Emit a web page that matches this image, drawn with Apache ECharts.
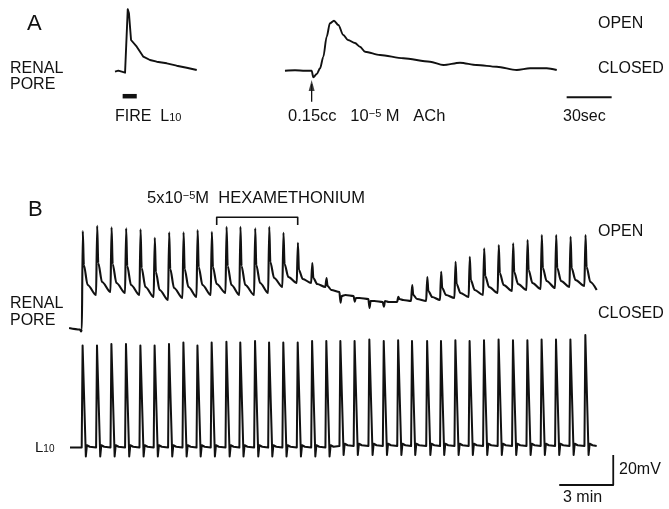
<!DOCTYPE html>
<html><head><meta charset="utf-8">
<script src="https://cdn.jsdelivr.net/npm/echarts@6/dist/echarts.min.js"></script>
<style>html,body{margin:0;padding:0;background:#fff}#c{width:669px;height:509px}</style>
</head><body><div id="c"></div>
<script>
// ---------- Panel A : time in s, pore deflection (arbitrary units) ----------
const aFireTrace = [[10,38.3],[12.2,39.3],[14.5,38.3],[16.7,37.3],[17.3,38.3],[18.5,100.7],[19.3,96.7],[20.7,70],[24.5,63.3],[28.9,53.3],[33.3,50],[37.8,48.3],[44.5,46.7],[51.1,44.3],[57.8,42.3],[64.5,40]];
const aStimulus = [[15.1,13.8],[24.5,13.8]];
const aAChTrace = [[123.3,39.3],[130,39.7],[136.7,39.3],[141.1,39.3],[142.2,32.7],[144.5,36],[146.7,41.7],[148.9,53.3],[151.1,73.3],[153.3,86.7],[156,89.3],[158.9,85],[162.2,75],[165.3,70],[170,67],[173.3,63.3],[176.7,58.3],[186.7,55],[202.2,51.7],[220,48.3],[228.9,45],[240,47.3],[251.1,45],[264.5,43.3],[277.8,40],[286.7,41.7],[297.8,41.7],[304.5,40]];
const aAChTime = 141.1;
const aScaleSec = [311.1, 341.1];   // 30 s bar

// ---------- Panel B : time in min ----------
const spikeTimes = [0.68,1.48,2.28,3.09,3.89,4.68,5.48,6.28,7.06,7.85,8.67,9.44,10.26,11.04,11.83,12.63,13.43,14.22,15.0,15.79,16.61,17.41,18.21,18.98,19.82,20.59,21.39,22.18,22.98,23.79,24.59,25.39,26.18,26.98,27.78,28.61];
const traceEnd = 29.26;
// renal pore (arbitrary deflection units)
const poreStart = 10.5;
const porePeak   = [109,114.3,112.7,111.7,110.7,102.3,107.7,107.7,110,108.3,113.3,113.3,111.7,113.3,107.3,97.3,77,62,37.3,38.3,32,33.3,43.3,55,63,68.3,78.3,83.3,91.7,95,96.7,100,105,105,103.3,105];
const poreDrop   = [75,77,76,74,72,68,71,71,73,73,74,74,75,78,76,70,62,54,44,42,39,39,41,45,49,52,56,60,64,67,68,70,72,72,72,73];
const poreMid    = [55,58,57,55,53,50,52,53,55,56,55,55,57,62,63,61,56,50,45,42,39,38,40,41,43,45,47,50,53,55,56,57,59,59,60,58];
const poreTrough = [45,48,47,45,43,40,42,43,45,47,45,45,47,53,57,57,53,48,44,41,38,38,39,39,40,42,43,45,47,49,50,51,52,53,54,50];
const hexPeriod = [8.15, 12.65];
// L10 membrane potential (mV)
const l10Peak  = [13,13,14,14,13,13,14,15,13,15,15.5,15,16,15,15,15,16,16,16,16,17,16,16.5,16,16,16,16.5,16,16.5,17,16.5,16.5,17,17,17,20];
const l10Under = [-61,-61,-61,-61,-61,-61,-61,-61,-61,-61,-61,-61,-61,-61,-61,-61,-61,-61,-60,-60,-60,-60,-60,-60,-60,-60,-60,-60,-60,-60,-60,-60,-60,-60,-60,-60];
const l10Rest  = [-55,-55,-55,-55,-55,-55,-55,-55,-55,-55,-55,-55,-55,-55,-55,-55,-55,-55,-54,-54,-54,-54,-54,-54,-54,-54,-54,-54,-54,-54,-54,-54,-54,-54,-54,-54];
const scaleMin = [27.18, 30.18];  // 3 min bar
const scaleMV = [-80, -60];       // 20 mV bar

// ---------- build traces ----------
const poreData = [[-0.05, poreStart + 1.5], [0.55, poreStart], [0.62, poreStart - 2], [0.66, poreStart]];
let prev = poreStart;
spikeTimes.forEach((t, i) => {
  const tn = i < spikeTimes.length - 1 ? spikeTimes[i + 1] - 0.03 : traceEnd;
  poreData.push([t, prev], [t + 0.03, porePeak[i]], [t + 0.09, poreDrop[i]], [t + 0.3, poreMid[i]], [tn, poreTrough[i]]);
  prev = poreTrough[i];
});
const l10Data = [[0, l10Rest[0]]];
spikeTimes.forEach((t, i) => {
  const r = l10Rest[i];
  l10Data.push([t - 0.03, r], [t + 0.02, l10Peak[i]], [t + 0.2, l10Under[i]], [t + 0.23, l10Under[i] + 1], [t + 0.26, r + 1.5], [t + 0.42, r + 0.5]);
});
l10Data.push([traceEnd, l10Rest[l10Rest.length - 1]]);

const FONT = "'Liberation Sans', Arial, sans-serif";
const INK = '#111';
function txt(text, x, y, size, extra) {
  return Object.assign({ type: 'text', x: x, y: y, silent: true,
    style: Object.assign({ text: text, fill: INK, font: size + 'px ' + FONT, verticalAlign: 'middle' }, extra || {}) });
}
function rich(text, x, y, size, richDef) {
  return { type: 'text', x: x, y: y, silent: true,
    style: { text: text, fill: INK, font: size + 'px ' + FONT, verticalAlign: 'middle', rich: richDef } };
}

const line = (data, xi, w, extra) => Object.assign({
  type: 'line', data: data, xAxisIndex: xi, yAxisIndex: xi, showSymbol: false, symbol: 'none',
  animation: false, silent: true, clip: false,
  lineStyle: { color: INK, width: w, join: 'round', cap: 'butt' } }, extra || {});

const chart = echarts.init(document.getElementById('c'), null, { renderer: 'canvas' });
chart.setOption({
  backgroundColor: '#fff',
  animation: false,
  grid: [
    { left: 100, top: 0, width: 540, height: 110 },   // A
    { left: 52, top: 200, width: 567, height: 140 },   // B pore
    { left: 52, top: 320, width: 567, height: 180 }    // B L10
  ],
  xAxis: [
    { type: 'value', gridIndex: 0, min: 0, max: 360, show: false },
    { type: 'value', gridIndex: 1, min: -1, max: 30.5, show: false },
    { type: 'value', gridIndex: 2, min: -1, max: 30.5, show: false }
  ],
  yAxis: [
    { type: 'value', gridIndex: 0, min: 0, max: 110, show: false },
    { type: 'value', gridIndex: 1, min: 0, max: 140, show: false },
    { type: 'value', gridIndex: 2, min: -90, max: 30, show: false }
  ],
  series: [
    line(aFireTrace, 0, 1.9),
    line(aStimulus, 0, 4.5),
    line(aAChTrace, 0, 1.9, { smooth: 0.3, smoothMonotone: 'x' }),
    line([[aAChTime, 8.3], [aAChTime, 26]], 0, 1.3),
    { type: 'scatter', xAxisIndex: 0, yAxisIndex: 0, data: [[aAChTime, 24.5]], symbol: 'triangle',
      symbolSize: [6, 11], itemStyle: { color: INK }, silent: true, animation: false },
    line([[aScaleSec[0], 12.7], [aScaleSec[1], 12.7]], 0, 2),
    line(poreData, 1, 2.1, { smooth: 0.3, smoothMonotone: 'x' }),
    line([[hexPeriod[0], 115], [hexPeriod[0], 122.7], [hexPeriod[1], 122.7], [hexPeriod[1], 115]], 1, 1.6),
    line(l10Data, 2, 2),
    line([[scaleMin[0], scaleMV[0]], [scaleMin[1], scaleMV[0]], [scaleMin[1], scaleMV[1]]], 2, 1.8)
  ],
  graphic: [
    txt('A', 27, 23.5, 22),
    txt('RENAL', 10, 69, 16),
    txt('PORE', 10, 85, 16),
    rich('{a|FIRE  L}{s|10}', 115, 116.5, 16, { a: { fontSize: 16, fontFamily: FONT, fill: INK }, s: { fontSize: 11, fontFamily: FONT, fill: INK, verticalAlign: 'bottom', padding: [0, 0, 1, 0] } }),
    rich('{a|0.15cc   10}{p|−5}{a| M   ACh}', 288, 116.5, 16.5, { a: { fontSize: 16.5, fontFamily: FONT, fill: INK }, p: { fontSize: 11, fontFamily: FONT, fill: INK, verticalAlign: 'top' } }),
    txt('30sec', 563, 116.5, 16),
    txt('OPEN', 598, 23.5, 16),
    txt('CLOSED', 598, 68.5, 16),
    txt('B', 28, 209.5, 22),
    rich('{a|5x10}{p|−5}{a|M  HEXAMETHONIUM}', 147, 198.5, 16.5, { a: { fontSize: 16.5, fontFamily: FONT, fill: INK }, p: { fontSize: 11, fontFamily: FONT, fill: INK, verticalAlign: 'top' } }),
    txt('OPEN', 598, 232, 16),
    txt('CLOSED', 598, 314, 16),
    txt('RENAL', 10, 304, 16),
    txt('PORE', 10, 321, 16),
    rich('{a|L}{s|10}', 35, 448, 15, { a: { fontSize: 15, fontFamily: FONT, fill: INK }, s: { fontSize: 10, fontFamily: FONT, fill: INK, verticalAlign: 'bottom', padding: [0, 0, 1, 0] } }),
    txt('20mV', 619, 470, 16),
    txt('3 min', 563, 498, 16)
  ]
});
</script></body></html>
